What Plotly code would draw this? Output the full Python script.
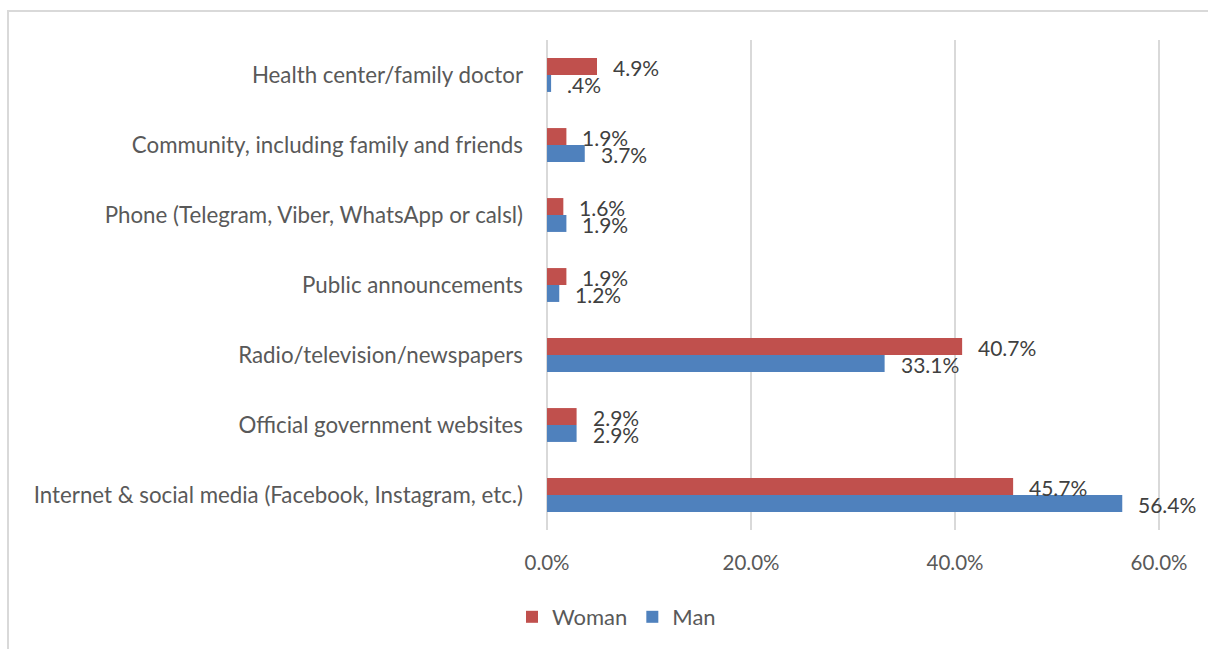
import plotly.graph_objects as go

# Information sources, listed bottom to top as they appear on the axis
categories = [
    "Internet & social media (Facebook, Instagram, etc.)",
    "Official government websites",
    "Radio/television/newspapers",
    "Public announcements",
    "Phone (Telegram, Viber, WhatsApp or calsl)",
    "Community, including family and friends",
    "Health center/family doctor",
]
woman = [45.7, 2.9, 40.7, 1.9, 1.6, 1.9, 4.9]
man = [56.4, 2.9, 33.1, 1.2, 1.9, 3.7, 0.4]
x_ticks = [0, 20, 40, 60]
x_tick_labels = ["0.0%", "20.0%", "40.0%", "60.0%"]

RED = "#C0504D"
BLUE = "#4F81BD"
GRID = "#D9D9D9"
FONT = "Lato, 'Open Sans', sans-serif"


def fmt(v):
    s = f"{v:.1f}%"
    return s[1:] if s.startswith("0.") else s


fig = go.Figure()
fig.add_trace(go.Bar(y=categories, x=man, name="Man", orientation="h",
                     marker=dict(color=BLUE, line=dict(width=0)), legendrank=2))
fig.add_trace(go.Bar(y=categories, x=woman, name="Woman", orientation="h",
                     marker=dict(color=RED, line=dict(width=0)), legendrank=1))

label_font = dict(size=21, color="#404040", family=FONT)
annotations = []
for cat, w, m in zip(categories, woman, man):
    annotations.append(dict(x=w, y=cat, xref="x", yref="y", text=fmt(w),
                            showarrow=False, xanchor="left", yanchor="middle",
                            xshift=14, yshift=8, font=label_font))
    annotations.append(dict(x=m, y=cat, xref="x", yref="y", text=fmt(m),
                            showarrow=False, xanchor="left", yanchor="middle",
                            xshift=14, yshift=-9, font=label_font))

# Light outer frame around the chart area
L, R, T, B = 546, 1160, 40, 531
def px_x(p):
    return (p - L) / (R - L)
def px_y(p):
    return (B - p) / (B - T)

fig.add_shape(type="rect", xref="paper", yref="paper",
              x0=px_x(8), x1=px_x(1215), y0=px_y(655), y1=px_y(11),
              line=dict(color=GRID, width=2), fillcolor="rgba(0,0,0,0)", layer="below")

fig.update_layout(
    width=1208, height=649,
    margin=dict(l=L, r=1208 - R, t=T, b=649 - B),
    barmode="group", bargap=0.516, bargroupgap=0,
    plot_bgcolor="white", paper_bgcolor="white",
    font=dict(family=FONT, size=20, color="#595959"),
    xaxis=dict(range=[-0.1, 60.1], tickvals=x_ticks, ticktext=x_tick_labels,
               showgrid=True, gridcolor=GRID, gridwidth=2, zeroline=False,
               showline=False, ticks="", tickfont=dict(size=20.5, color="#595959"),
               ticklabelstandoff=18),
    yaxis=dict(showgrid=False, zeroline=False, showline=False, ticks="",
               tickfont=dict(size=22.3, color="#595959"), ticklabelstandoff=22),
    legend=dict(orientation="h", x=px_x(512), y=px_y(596), xanchor="left", yanchor="top",
                font=dict(size=22, color="#595959"), itemwidth=30),
    annotations=annotations,
    showlegend=True,
)

fig.write_html("out.html")
